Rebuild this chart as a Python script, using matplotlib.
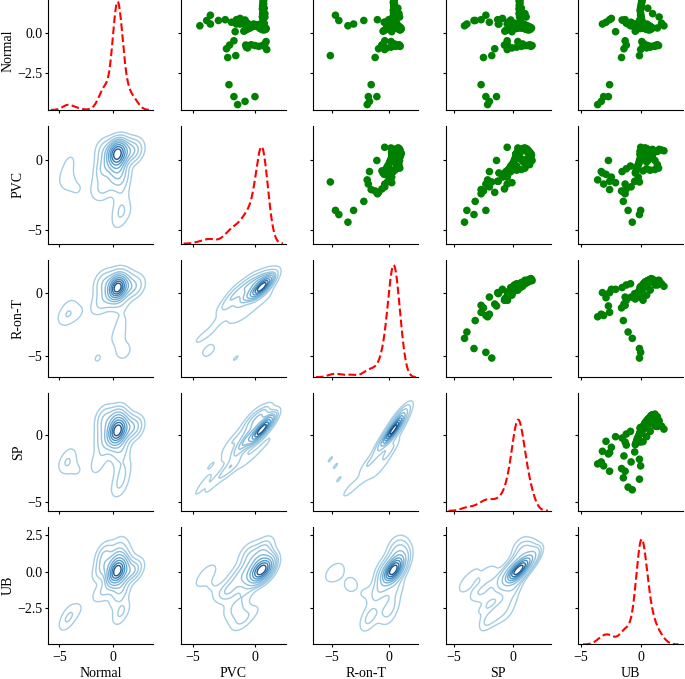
import matplotlib
matplotlib.use("Agg")
import matplotlib.pyplot as plt
from matplotlib.colors import LinearSegmentedColormap
import pandas as pd
import seaborn as sns

# values, grouped by shape of the trace
# (N dip, recovery, UB dip, PVC/RonT/SP dip, recovery, low band, N peak, UB arm, core, dense core)
normal = [
    -3.25, -4.00, -4.50, -4.30, -4.00,
    -1.55, -1.00, -0.77, -0.50,
    0.55, 0.66, 0.82, 0.90, 0.07, 0.80, 0.60, 0.44,
    0.44, 0.77, 1.10, 0.55, 0.77, -1.43,
    0.82, 0.66, 0.55, 0.55,
    -0.55, -0.70, -0.80, -0.85, -0.80, -0.75, -0.80, -0.85, -0.90, -0.95, -1.05, -0.77,
    0.80, 1.00, 1.20, 1.40, 1.60, 1.80, 2.00, 2.20, 2.10, 1.90, 1.70, 1.50,
    1.54, 1.20, 0.99, 0.60, 0.44, 0.30,
    0.10, 0.15, 0.20, 0.25, 0.30, 0.35, 0.40, 0.42, 0.45, 0.48,
    0.50, 0.52, 0.50, 0.48, 0.45, 0.42, 0.40, 0.38, 0.35, 0.33,
    0.30, 0.28, 0.25, 0.22, 0.20, 0.18, 0.20, 0.25, 0.30, 0.35,
    0.40, 0.45, 0.50, 0.55, 0.50, 0.45, 0.40, 0.35, 0.30, 0.28,
    0.30, 0.32, 0.35, 0.38, 0.40, 0.36, 0.33, 0.30, 0.28, 0.27,
    0.29, 0.31, 0.34, 0.37, 0.39, 0.41, 0.38, 0.35, 0.32, 0.29,
]
pvc = [
    -2.10, -1.70, -1.40, -0.80, 0.00,
    -2.20, -2.30, -2.05, -1.70,
    -0.90, -1.00, -1.50, -1.20, -1.60, -0.80, -0.60, -0.40,
    -4.45, -3.90, -3.60, -3.60, -2.95, -1.55,
    -2.40, -1.90, -1.50, -1.20,
    0.90, 0.80, 0.60, 0.30, 0.00, -0.30, -0.55, -0.65, -0.70, -0.60, 0.95, -0.75,
    0.65, 0.60, 0.62, 0.65, 0.68, 0.70, 0.70, 0.68, 0.66, 0.64, 0.62, 0.60,
    0.75, 0.80, 0.80, 0.75, 0.70, 0.65,
    -0.90, -0.80, -0.70, -0.55, -0.40, -0.30, -0.20, -0.10, 0.00, 0.10,
    0.20, 0.30, 0.40, 0.50, 0.55, 0.60, 0.65, 0.70, 0.75, 0.80,
    0.85, 0.88, 0.90, 0.85, 0.80, 0.70, 0.60, 0.50, 0.40, 0.30,
    0.20, 0.10, 0.00, -0.10, 0.05, 0.20, 0.35, 0.45, 0.55, 0.60,
    0.45, 0.48, 0.50, 0.52, 0.55, 0.53, 0.50, 0.47, 0.45, 0.42,
    0.44, 0.47, 0.50, 0.54, 0.57, 0.58, 0.55, 0.52, 0.49, 0.46,
]
ron_t = [
    -1.55, -1.80, -1.90, -1.70, -1.05,
    -1.20, -0.90, -0.60, -0.35,
    0.00, -0.40, 0.00, 0.26, 0.26, 0.40, 0.60, 0.70,
    -3.60, -4.40, -4.70, -3.10, -2.20, -5.15,
    -1.00, -0.35, -0.08, 0.05,
    0.20, 0.50, 0.80, 1.00, 0.95, 0.90, 0.97, 0.60, 0.20, -0.20, -0.36, -0.60,
    0.50, 0.45, 0.42, 0.40, 0.45, 0.50, 0.48, 0.45, 0.42, 0.40, 0.44, 0.46,
    0.80, 0.90, 0.95, 0.70, 0.50, 0.60,
    -0.50, -0.40, -0.30, -0.20, -0.10, 0.00, 0.05, 0.10, 0.15, 0.20,
    0.25, 0.30, 0.35, 0.40, 0.45, 0.50, 0.55, 0.60, 0.65, 0.70,
    0.75, 0.80, 0.85, 0.90, 0.95, 1.00, 1.05, 1.10, 1.05, 1.00,
    0.90, 0.80, 0.70, 0.60, 0.50, 0.45, 0.40, 0.35, 0.30, 0.25,
    0.30, 0.32, 0.35, 0.38, 0.40, 0.36, 0.33, 0.30, 0.28, 0.26,
    0.29, 0.31, 0.34, 0.37, 0.39, 0.41, 0.38, 0.35, 0.32, 0.29,
]
sp = [
    -2.70, -2.30, -2.15, -2.00, -1.40,
    -2.50, -1.55, -0.73, -0.50,
    -1.20, -0.45, -1.30, -0.90, -0.10, -0.20, 0.10, 0.30,
    -4.10, -3.30, -2.30, -3.90, -3.20, -1.80,
    -2.70, -2.00, -1.25, -0.50,
    0.40, 0.80, 1.20, 1.50, 1.60, 1.40, 1.00, 0.70, 0.30, -0.10, -0.50, -0.47,
    0.60, 0.55, 0.50, 0.55, 0.60, 0.55, 0.50, 0.55, 0.60, 0.58, 0.52, 0.50,
    0.70, 1.00, 1.10, 0.70, 0.47, 0.67,
    -0.70, -0.60, -0.45, -0.30, -0.20, -0.10, 0.00, 0.05, 0.10, 0.15,
    0.20, 0.25, 0.30, 0.35, 0.40, 0.45, 0.50, 0.55, 0.60, 0.70,
    0.80, 0.90, 1.00, 1.10, 1.20, 1.30, 1.40, 1.50, 1.55, 1.45,
    1.30, 1.15, 1.00, 0.85, 0.70, 0.60, 0.50, 0.45, 0.40, 0.35,
    0.25, 0.28, 0.30, 0.33, 0.35, 0.32, 0.30, 0.27, 0.25, 0.22,
    0.24, 0.28, 0.31, 0.34, 0.36, 0.38, 0.35, 0.32, 0.29, 0.26,
]
ub = [
    -2.60, -3.10, -3.60, -3.30, -2.70,
    -1.60, -1.40, -1.20, -1.30,
    -3.20, -2.90, -2.60, -2.45, -2.10, -1.55, -1.20, -0.85,
    -0.70, -0.10, 0.00, -1.05, -1.45, -0.10,
    -1.30, -0.80, -0.50, -0.20,
    0.10, 0.30, 0.60, 0.90, 1.20, 1.40, 1.50, 1.20, 0.80, 0.50, 0.00, 0.20,
    0.10, 0.05, 0.00, -0.05, 0.00, 0.05, 0.10, 0.10, 0.15, 0.10, 0.05, 0.00,
    0.60, 1.00, 1.55, 1.75, 1.95, 1.40,
    -0.45, -0.40, -0.35, -0.30, -0.25, -0.20, -0.15, -0.10, -0.10, -0.05,
    0.00, 0.00, 0.05, 0.10, 0.10, 0.15, 0.15, 0.20, 0.20, 0.25,
    0.30, 0.35, 0.40, 0.50, 0.60, 0.70, 0.80, 0.90, 1.00, 0.90,
    0.80, 0.70, 0.60, 0.50, 0.40, 0.30, 0.25, 0.20, 0.15, 0.10,
    0.00, 0.02, 0.05, 0.06, 0.08, 0.04, 0.02, 0.00, -0.02, -0.04,
    -0.01, 0.01, 0.03, 0.05, 0.07, 0.09, 0.06, 0.04, 0.02, 0.00,
]

df = pd.DataFrame({"Normal": normal, "PVC": pvc, "R-on-T": ron_t, "SP": sp, "UB": ub})

row_ticks = [[-2.5, 0.0], [-5, 0], [-5, 0], [-5, 0], [-2.5, 0.0, 2.5]]
col_ticks = [-5, 0]

plt.rcParams["font.family"] = ["Liberation Serif", "DejaVu Serif"]
plt.rcParams["font.size"] = 10
plt.rcParams["xtick.major.size"] = 2.4
plt.rcParams["ytick.major.size"] = 2.4
plt.rcParams["xtick.major.pad"] = 2.5
plt.rcParams["ytick.major.pad"] = 2.0
plt.rcParams["axes.labelpad"] = 2.0

# light-to-navy blues, without the near-white end
blues = LinearSegmentedColormap.from_list("blues", ["#a6cde3", "#4a98c9", "#08306b"])

g = sns.PairGrid(df, height=1.3)
g.map_upper(sns.scatterplot, color="green", s=30, edgecolor="none")
g.map_lower(sns.kdeplot, cmap=blues, linewidths=1.0)
g.map_diag(sns.kdeplot, color="red", linestyle="--", linewidth=1.5)

fig = g.figure
fig.set_size_inches(6.85, 6.79)
fig.subplots_adjust(left=0.0705, right=0.9975, bottom=0.051, top=1.0113,
                    wspace=0.262, hspace=0.136)

g.axes[-1, 0].set_ylim(-5.0, 3.1)
for i, ticks in enumerate(row_ticks):
    g.axes[i, 0].set_yticks(ticks)
for j in range(len(df.columns)):
    g.axes[-1, j].set_xticks(col_ticks)
    g.axes[-1, j].xaxis.labelpad = 2

fig.savefig("out.png", dpi=100)
